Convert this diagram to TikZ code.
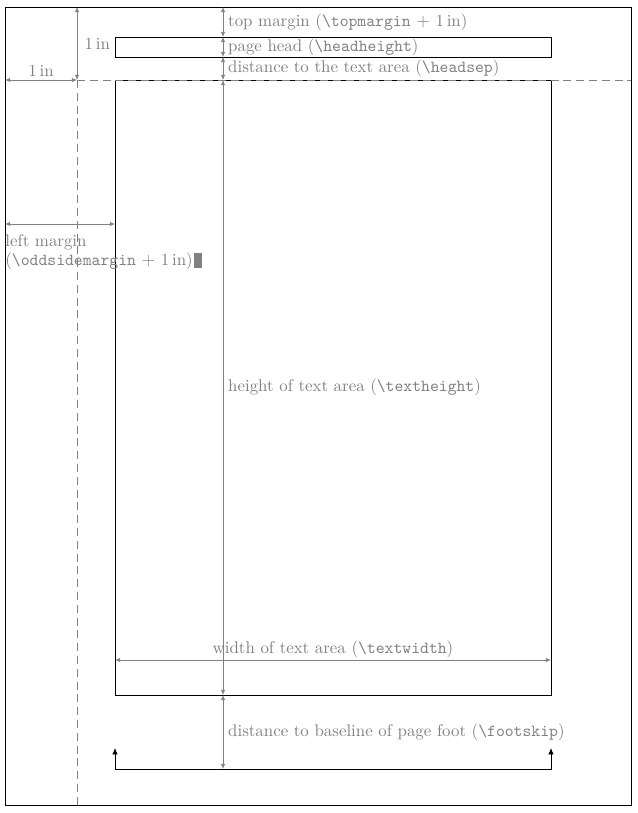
\documentclass[tikz,border=0pt]{standalone}
\usetikzlibrary{arrows.meta}
\tikzset{
    dimline/.style = {gray, {Latex[length=3.2pt,width=2.8pt]}-{Latex[length=3.2pt,width=2.8pt]}},
    footline/.style = {black, {Latex[length=4pt,width=3.4pt]}-{Latex[length=4pt,width=3.4pt]}},
    guide/.style = {gray, dash pattern=on 5pt off 3pt},
    lbl/.style = {text=gray, inner sep=3pt},
}
\newcommand{\cmdname}[1]{\texttt{\textbackslash #1}}
\begin{document}
\begin{tikzpicture}[x=0.625pt, y=-0.625pt, line width=0.5pt,
        every node/.style={font=\fontsize{10.55}{12.6}\selectfont}]
    \useasboundingbox (0,0) rectangle (638,813);
    % page, head and text area
    \draw (5,7) rectangle (631,805);
    \draw (115,37) rectangle (551,57);
    \draw (115,80) rectangle (551,695);
    % the 1in guides
    \coordinate (inTop) at (77,7);
    \coordinate (inCorner) at (77,80);
    \coordinate (inLeft) at (5,80);
    \coordinate (inRight) at (631,80);
    \coordinate (inBottom) at (77,805);
    \draw [guide] (inCorner) -- (inRight);
    \draw [guide] (inCorner) -- (inBottom);
    \draw [dimline] (inTop) -- (inCorner) node [lbl, inner sep=4.5pt, midway, right] {1\,in};
    \draw [dimline] (inLeft) -- (inCorner) node [lbl, inner sep=2pt, midway, above] {1\,in};
    % vertical measures
    \coordinate (pageTop) at (223,7);
    \coordinate (headTop) at (223,37);
    \coordinate (headBot) at (223,57);
    \coordinate (textTop) at (223,80);
    \coordinate (textBot) at (223,695);
    \coordinate (footBase) at (223,769);
    \draw [dimline] (pageTop) -- (headTop)
        node [lbl, midway, right] {top margin (\cmdname{topmargin} $+$ 1\,in)};
    \draw [dimline] (headTop) -- (headBot)
        node [lbl, midway, right] {page head (\cmdname{headheight})};
    \draw [dimline] (headBot) -- (textTop)
        node [lbl, midway, right] {distance to the text area (\cmdname{headsep})};
    \draw [dimline] (textTop) -- (textBot)
        node [lbl, midway, right] {height of text area (\cmdname{textheight})};
    \draw [dimline] (textBot) -- (footBase)
        node [lbl, midway, right] {distance to baseline of page foot (\cmdname{footskip})};
    % horizontal measures
    \coordinate (marginL) at (5,224);
    \coordinate (marginR) at (115,224);
    \draw [dimline] (marginL) -- (marginR);
    \node [text=gray, inner sep=0pt, anchor=base west] (marginLbl) at (5,246) {left margin};
    \node [text=gray, inner sep=0pt, anchor=base west] (oddLbl) at (5,265)
        {(\cmdname{oddsidemargin} $+$ 1\,in)};
    \fill [gray] ([xshift=0.8pt, yshift=-2pt]oddLbl.base east) rectangle ++(8,-15);
    \coordinate (widthL) at (115,660);
    \coordinate (widthR) at (551,660);
    \draw [dimline] (widthL) -- (widthR)
        node [lbl, inner sep=1pt, midway, above] {width of text area (\cmdname{textwidth})};
    % page foot
    \coordinate (footL) at (115,748);
    \coordinate (footLB) at (115,769);
    \coordinate (footRB) at (551,769);
    \coordinate (footR) at (551,748);
    \draw [footline] (footL) -- (footLB) -- (footRB) -- (footR);
\end{tikzpicture}
\end{document}
